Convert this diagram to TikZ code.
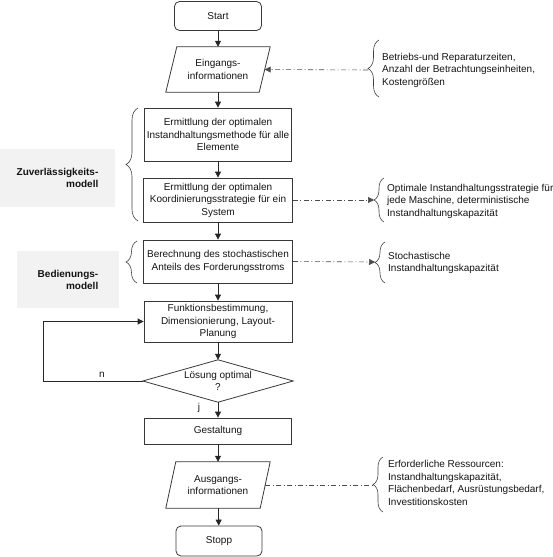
\documentclass[tikz,border=0pt]{standalone}
\usepackage{fontspec}
\setmainfont{Liberation Sans}
\usetikzlibrary{arrows.meta,decorations.pathreplacing}
\begin{document}
\begin{tikzpicture}[x=1pt,y=-1pt,
  every node/.style={font=\fontsize{10}{12.5}\selectfont, text=black!92},
  box/.style={draw=black!78, line width=0.8pt, align=center, inner sep=1pt},
  rbox/.style={box, rounded corners=5pt},
  hidden/.style={draw=none, align=center, inner sep=0pt},
  shapeline/.style={draw=black!78, line width=0.8pt},
  arr/.style={draw=black!85, line width=0.8pt, -{Triangle[length=6pt,width=6pt]}},
  dd/.style={draw=black!70, line width=0.6pt, dash pattern=on 5pt off 2.5pt on 1pt off 2.5pt},
  ddarr/.style={dd, -{Triangle[length=6pt,width=6pt]}},
  brc/.style={draw=black!75, line width=0.6pt, decorate, decoration={brace, amplitude=#1}},
  grayb/.style={fill=black!5, draw=none, align=right, font=\fontsize{10}{12}\selectfont\bfseries},
  side/.style={anchor=west, align=left, inner sep=0pt}
]
\useasboundingbox (0,0) rectangle (553,557);

% gray model boxes
\node[grayb, minimum width=115, minimum height=58] (zm) at (57.5,178) {Zuverlässigkeits-\\modell};
\node[grayb, minimum width=102, minimum height=57] (bm) at (68,279.5) {Bedienungs-\\modell};

% main flow
\node[rbox, minimum width=87, minimum height=29] (start) at (218,16) {Start};
\node[hidden, minimum width=93, minimum height=45] (ein) at (218,69.5) {Eingangs-\\informationen};
\draw[shapeline] ([xshift=5.5]ein.north west) -- ([xshift=5.5]ein.north east) -- ([xshift=-5.5]ein.south east) -- ([xshift=-5.5]ein.south west) -- cycle;
\node[box, minimum width=147, minimum height=53] (b1) at (218,134.5) {Ermittlung der optimalen\\Instandhaltungsmethode für alle\\Elemente};
\node[box, minimum width=149, minimum height=44] (b2) at (218,200) {Ermittlung der optimalen\\Koordinierungsstrategie für ein\\System};
\node[box, minimum width=149, minimum height=43] (b3) at (218,261.5) {Berechnung des stochastischen\\Anteils des Forderungsstroms};
\node[box, minimum width=148, minimum height=41] (b4) at (218,321.5) {Funktionsbestimmung,\\Dimensionierung, Layout-\\Planung};
\node[hidden, minimum width=150, minimum height=42] (dia) at (218,381) {\\[-6pt]Lösung optimal\\?};
\draw[shapeline] (dia.north) -- (dia.east) -- (dia.south) -- (dia.west) -- cycle;
\node[box, minimum width=147, minimum height=26] (gest) at (218,431) {Gestaltung};
\node[hidden, minimum width=94, minimum height=46] (aus) at (218,485) {Ausgangs-\\informationen};
\draw[shapeline] ([xshift=5]aus.north west) -- ([xshift=5]aus.north east) -- ([xshift=-5]aus.south east) -- ([xshift=-5]aus.south west) -- cycle;
\node[rbox, minimum width=86, minimum height=30] (stop) at (219,541) {Stopp};

% flow arrows
\draw[arr] (start) -- (ein);
\draw[arr] (ein) -- (b1);
\draw[arr] (b1) -- (b2);
\draw[arr] (b2) -- (b3);
\draw[arr] (b3) -- (b4);
\draw[arr] (b4) -- (dia);
\draw[arr] (dia) -- (gest);
\draw[arr] (gest) -- (aus);
\draw[arr] (aus) -- (stop);
\draw[arr] (dia.west) -- ++(-99,0) |- (b4.west);
\node[inner sep=0pt] (nlab) at (102,375) {n};
\node[inner sep=0pt] (jlab) at (199,408) {j};

% left braces
\draw[brc=12pt] (138,221) -- (138,108);
\draw[brc=11pt] (137,283) -- (137,241);

% right braces
\draw[brc=11pt] (379,97) -- (379,40);
\draw[brc=10pt] (384,222) -- (384,178);
\draw[brc=10pt] (385,283) -- (385,242);
\draw[brc=10pt] (383,512) -- (383,457);

\coordinate (t1) at (368,70);
\coordinate (t2) at (374,200);
\coordinate (t3) at (375,262);
\coordinate (t4) at (373,485);

\node[side] (s1) at (382,70) {Betriebs-und Reparaturzeiten,\\Anzahl der Betrachtungseinheiten,\\Kostengrößen};
\node[side] (s2) at (387,201) {Optimale Instandhaltungsstrategie für\\jede Maschine, deterministische\\Instandhaltungskapazität};
\node[side] (s3) at (388,263) {Stochastische\\Instandhaltungskapazität};
\node[side] (s4) at (388,483) {Erforderliche Ressourcen:\\Instandhaltungskapazität,\\Flächenbedarf, Ausrüstungsbedarf,\\Investitionskosten};

% dash-dot connectors
\draw[ddarr] (t1) -- (ein.east);
\draw[ddarr] (b2.east) -- (t2);
\draw[ddarr] (b3.east) -- (t3);
\draw[dd] (aus.east) -- (t4);
\end{tikzpicture}
\end{document}
